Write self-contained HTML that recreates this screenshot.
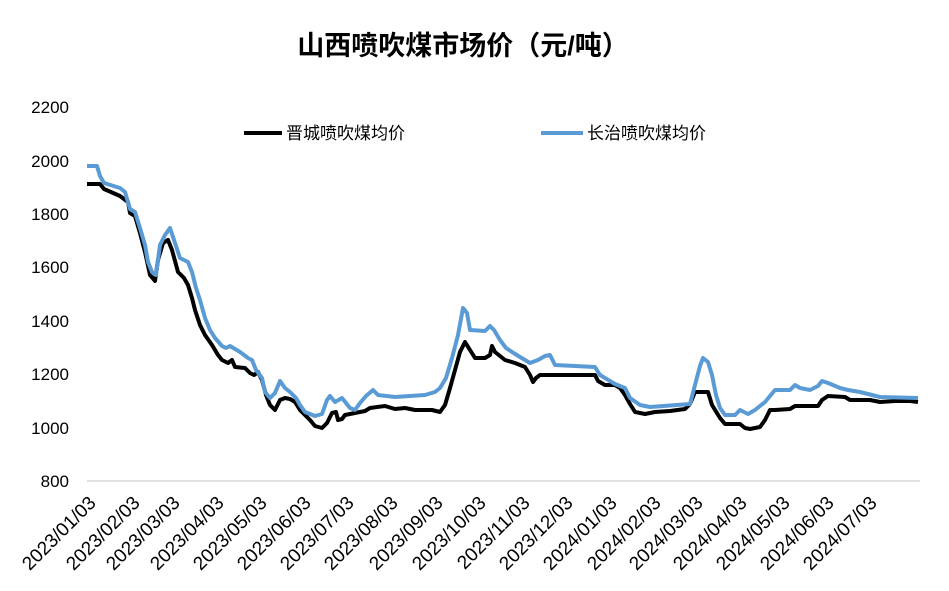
<!DOCTYPE html>
<html><head><meta charset="utf-8"><style>
body{margin:0;background:#fff}
svg{display:block;font-family:"Liberation Sans","Noto Sans CJK SC",sans-serif}
</style></head><body>
<svg width="949" height="591" viewBox="0 0 949 591">
<text x="463" y="55" text-anchor="middle" font-size="27" font-weight="bold" fill="#000">山西喷吹煤市场价（元/吨）</text>
<g font-size="17" fill="#000" text-anchor="end">
<text x="69" y="113">2200</text><text x="69" y="167">2000</text><text x="69" y="220">1800</text>
<text x="69" y="273">1600</text><text x="69" y="327">1400</text><text x="69" y="380">1200</text>
<text x="69" y="434">1000</text><text x="69" y="487">800</text>
</g>
<line x1="87" y1="481" x2="920" y2="481" stroke="#d9d9d9" stroke-width="1.5"/>
<g font-size="19" fill="#000" text-anchor="end">
<text transform="translate(97,504) rotate(-45)">2023/01/03</text>
<text transform="translate(141,504) rotate(-45)">2023/02/03</text>
<text transform="translate(181,504) rotate(-45)">2023/03/03</text>
<text transform="translate(225,504) rotate(-45)">2023/04/03</text>
<text transform="translate(268,504) rotate(-45)">2023/05/03</text>
<text transform="translate(312,504) rotate(-45)">2023/06/03</text>
<text transform="translate(355,504) rotate(-45)">2023/07/03</text>
<text transform="translate(399,504) rotate(-45)">2023/08/03</text>
<text transform="translate(444,504) rotate(-45)">2023/09/03</text>
<text transform="translate(487,504) rotate(-45)">2023/10/03</text>
<text transform="translate(531,504) rotate(-45)">2023/11/03</text>
<text transform="translate(574,504) rotate(-45)">2023/12/03</text>
<text transform="translate(618,504) rotate(-45)">2024/01/03</text>
<text transform="translate(662,504) rotate(-45)">2024/02/03</text>
<text transform="translate(704,504) rotate(-45)">2024/03/03</text>
<text transform="translate(748,504) rotate(-45)">2024/04/03</text>
<text transform="translate(791,504) rotate(-45)">2024/05/03</text>
<text transform="translate(835,504) rotate(-45)">2024/06/03</text>
<text transform="translate(878,504) rotate(-45)">2024/07/03</text>
</g>
<line x1="244" y1="133" x2="282" y2="133" stroke="#000" stroke-width="4"/>
<text x="286" y="139" font-size="17">晋城喷吹煤均价</text>
<line x1="541" y1="133" x2="583" y2="133" stroke="#5b9bd5" stroke-width="4"/>
<text x="587" y="139" font-size="17">长治喷吹煤均价</text>
<polyline fill="none" stroke="#000" stroke-width="4" stroke-linejoin="round" points="87,184 100,184 104,189 120,196 128,202 130,213 135,216 140,233 145,252 150,275 155,281 158,260 163,243 168,240 172,250 178,272 184,278 188,285 192,298 195,310 200,325 205,335 212,345 218,355 222,360 228,363 232,360 235,367 245,368 250,373 254,375 258,372 262,380 266,395 270,405 275,410 280,400 285,398 290,399 295,402 300,410 305,415 310,420 315,426 322,428 327,423 332,413 336,412 338,420 342,419 345,415 355,413 365,411 370,408 385,406 395,409 405,408 415,410 432,410 440,412 445,405 450,388 455,370 460,352 465,342 470,350 475,358 485,358 490,355 492,346 495,352 505,360 515,363 525,367 530,375 533,382 536,378 540,375 560,375 595,375 598,381 605,385 615,385 620,388 625,395 630,404 635,412 645,414 655,412 670,411 685,409 690,404 695,392 700,392 708,392 712,405 720,418 725,424 740,424 745,428 750,429 760,427 765,420 770,410 775,410 790,409 795,406 818,406 822,400 828,396 845,397 850,400 870,400 880,402 895,401 910,401 918,402"/>
<polyline fill="none" stroke="#5b9bd5" stroke-width="4" stroke-linejoin="round" points="87,166 97,166 100,176 104,183 120,188 125,192 130,209 135,212 140,228 145,245 148,262 152,272 156,275 160,245 165,235 170,228 175,243 180,258 188,262 192,272 196,288 200,300 205,318 210,330 215,338 222,346 226,348 230,346 240,352 248,358 252,360 256,370 262,378 265,392 270,398 275,393 280,381 285,388 290,392 296,398 300,405 305,412 315,416 322,414 327,400 330,396 335,402 342,398 350,408 355,410 360,403 366,396 373,390 378,395 395,397 425,395 435,392 440,388 446,378 452,358 458,335 463,308 467,313 470,330 485,331 490,326 494,330 500,340 506,348 512,352 520,357 530,363 538,360 545,356 550,355 555,365 595,367 600,375 615,384 625,388 630,398 640,405 650,407 690,404 695,385 700,366 703,358 708,362 712,375 716,395 720,408 725,415 735,415 740,410 748,414 755,410 765,402 770,396 775,390 780,390 790,390 795,385 800,388 810,390 818,386 822,381 828,383 840,388 848,390 860,392 880,397 918,398"/>
</svg>
</body></html>
